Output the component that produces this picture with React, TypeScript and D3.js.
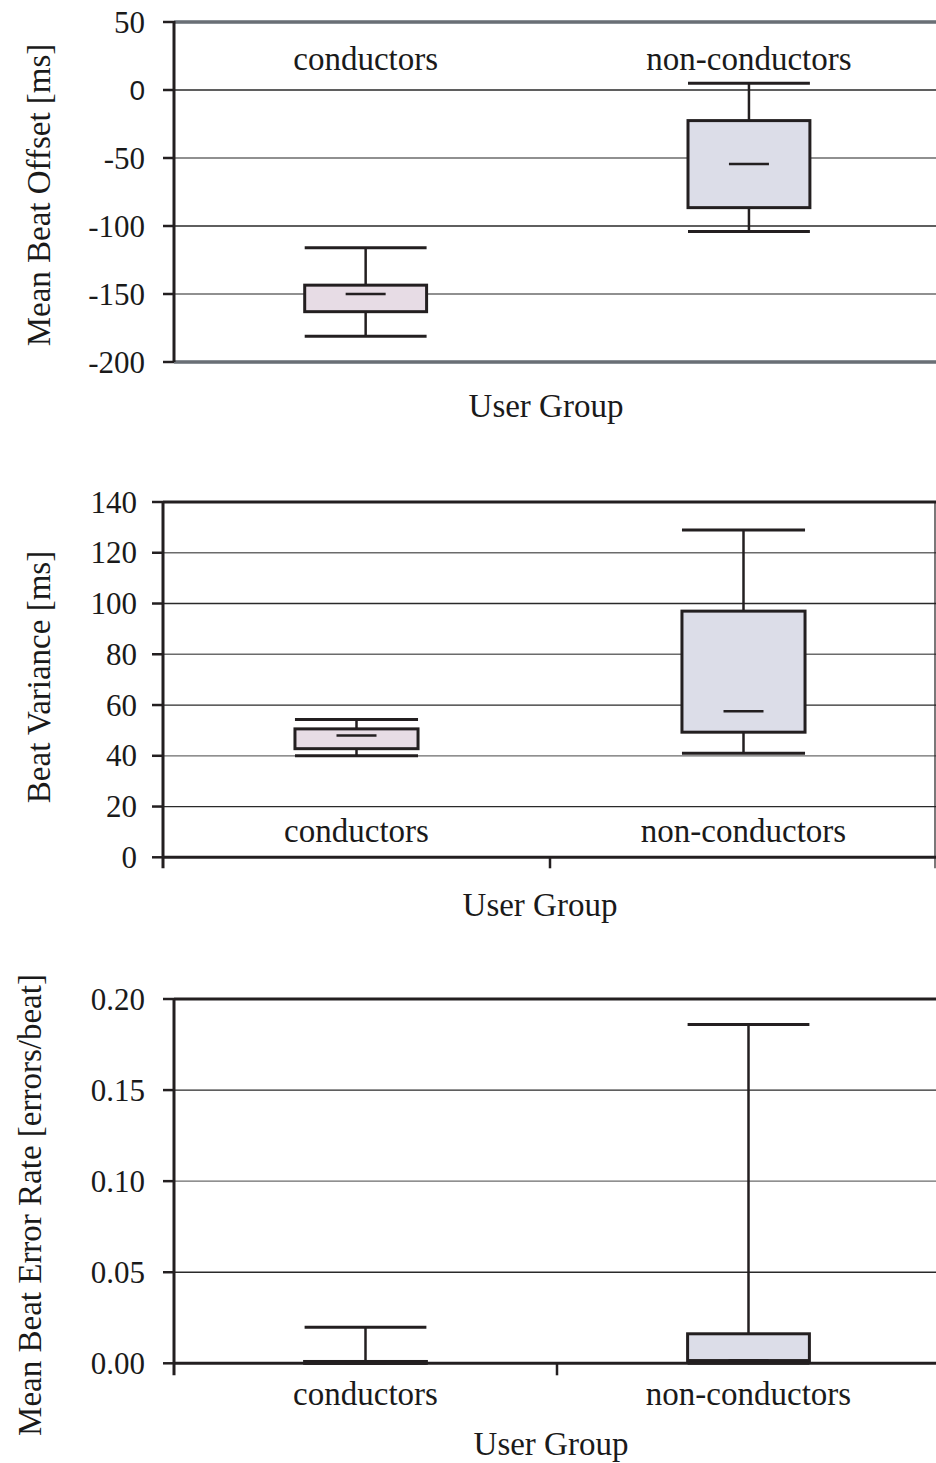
import React from "react";
import * as d3 from "d3";

// ---------- data ----------
const categories = ["conductors", "non-conductors"];

// [whiskerLow, q1, median, q3, whiskerHigh]
const offsetConductors = [-181, -163, -150, -143.5, -116];
const offsetNonConductors = [-104, -86.5, -54.5, -22.5, 5];
const offsetTicks = [50, 0, -50, -100, -150, -200];

const varianceConductors = [40, 42.8, 48, 50.6, 54.3];
const varianceNonConductors = [41, 49.3, 57.5, 97, 129];
const varianceTicks = [0, 20, 40, 60, 80, 100, 120, 140];

const errorConductors = [0, 0, 0, 0.001, 0.0198];
const errorNonConductors = [0, 0.0015, 0.0015, 0.0162, 0.186];
const errorTicks = [0, 0.05, 0.1, 0.15, 0.2];

const fills = ["#e7dce5", "#dcdde8"];

const SERIF = "'Liberation Serif', 'Times New Roman', serif";
const SANS = "'Liberation Sans', Arial, sans-serif";
const INK = "#231f20";
const TXT = "#1a1a1a";

type PanelCfg = {
  values: number[][];
  ticks: number[];
  fmt: (v: number) => string;
  domain: [number, number];
  top: number;
  bottom: number;
  axisX: number;
  right: number;
  title: string;
  titleX: number;
  titleY: number;
  catY: number;
  xTitleX: number;
  xTitleY: number;
  style: "gray" | "axes";
  tickLabelRight: number;
  extendBelow: number;
  sansZero?: boolean;
  rightBorder?: boolean;
};

const panels: PanelCfg[] = [
  {
    values: [offsetConductors, offsetNonConductors],
    ticks: offsetTicks,
    fmt: (v) => String(v),
    domain: [-200, 50],
    top: 22,
    bottom: 362,
    axisX: 174,
    right: 940.6,
    title: "Mean Beat Offset [ms]",
    titleX: 50,
    titleY: 195,
    catY: 70,
    xTitleX: 546,
    xTitleY: 417,
    style: "gray",
    tickLabelRight: 145,
    extendBelow: 0,
    sansZero: true,
  },
  {
    values: [varianceConductors, varianceNonConductors],
    ticks: varianceTicks,
    fmt: (v) => String(v),
    domain: [0, 140],
    top: 502,
    bottom: 857.3,
    axisX: 163,
    right: 937,
    title: "Beat Variance [ms]",
    titleX: 50,
    titleY: 677,
    catY: 842,
    xTitleX: 540,
    xTitleY: 916,
    style: "axes",
    tickLabelRight: 137,
    extendBelow: 11,
    rightBorder: true,
  },
  {
    values: [errorConductors, errorNonConductors],
    ticks: errorTicks,
    fmt: (v) => d3.format(".2f")(v),
    domain: [0, 0.2],
    top: 999,
    bottom: 1363.3,
    axisX: 174,
    right: 940,
    title: "Mean Beat Error Rate [errors/beat]",
    titleX: 41,
    titleY: 1205,
    catY: 1405,
    xTitleX: 551,
    xTitleY: 1455,
    style: "axes",
    tickLabelRight: 145,
    extendBelow: 12,
  },
];

function Panel({ cfg }: { cfg: PanelCfg }) {
  const y = d3.scaleLinear().domain(cfg.domain).range([cfg.bottom, cfg.top]);
  const x = d3
    .scaleBand<string>()
    .domain(categories)
    .range([cfg.axisX, cfg.right])
    .paddingInner(0)
    .paddingOuter(0);
  const bw = x.bandwidth();
  const boxW = bw * 0.318;
  const medW = 40;
  const [lo, hi] = cfg.domain;
  const inner = cfg.ticks.filter((t) => t !== lo && t !== hi);
  const rightEnd = Math.min(cfg.right, 936);

  return (
    <g>
      {/* gridlines */}
      {inner.map((t, i) => (
        <line
          key={"g" + t}
          x1={cfg.axisX}
          x2={rightEnd}
          y1={y(t)}
          y2={y(t)}
          stroke={i % 2 === 0 ? "#2a2a2a" : "#6b6b6b"}
          strokeWidth={1.3}
        />
      ))}

      {/* boxes */}
      {categories.map((c, i) => {
        const [wl, q1, med, q3, wh] = cfg.values[i];
        const cx = (x(c) as number) + bw / 2;
        return (
          <g key={c} stroke={INK} strokeLinecap="butt">
            <line x1={cx} x2={cx} y1={y(wh)} y2={y(q3)} strokeWidth={2.5} />
            <line x1={cx} x2={cx} y1={y(q1)} y2={y(wl)} strokeWidth={2.5} />
            <line x1={cx - boxW / 2} x2={cx + boxW / 2} y1={y(wh)} y2={y(wh)} strokeWidth={3} />
            <line x1={cx - boxW / 2} x2={cx + boxW / 2} y1={y(wl)} y2={y(wl)} strokeWidth={3} />
            <rect
              x={cx - boxW / 2}
              y={y(q3)}
              width={boxW}
              height={Math.max(0, y(q1) - y(q3))}
              fill={fills[i]}
              strokeWidth={3}
            />
            <line x1={cx - medW / 2} x2={cx + medW / 2} y1={y(med)} y2={y(med)} strokeWidth={2.5} />
          </g>
        );
      })}

      {/* frame / axes */}
      {cfg.style === "gray" ? (
        <g>
          <line x1={cfg.axisX} x2={rightEnd} y1={cfg.top} y2={cfg.top} stroke="#8a9096" strokeWidth={4} />
          <line x1={cfg.axisX} x2={rightEnd} y1={cfg.top} y2={cfg.top} stroke="#4a4f55" strokeWidth={1} />
          <line x1={cfg.axisX} x2={rightEnd} y1={cfg.bottom} y2={cfg.bottom} stroke="#8a9096" strokeWidth={4} />
          <line x1={cfg.axisX} x2={rightEnd} y1={cfg.bottom} y2={cfg.bottom} stroke="#4a4f55" strokeWidth={1} />
        </g>
      ) : (
        <g stroke={INK}>
          <line x1={cfg.axisX} x2={rightEnd} y1={cfg.top} y2={cfg.top} strokeWidth={3} />
          <line x1={cfg.axisX} x2={rightEnd} y1={cfg.bottom} y2={cfg.bottom} strokeWidth={3} />
          <line
            x1={x(categories[1]) as number}
            x2={x(categories[1]) as number}
            y1={cfg.bottom}
            y2={cfg.bottom + cfg.extendBelow}
            strokeWidth={2.5}
          />
          {cfg.rightBorder && (
            <line x1={935} x2={935} y1={cfg.top} y2={cfg.bottom + cfg.extendBelow} strokeWidth={1.2} />
          )}
        </g>
      )}
      <line
        x1={cfg.axisX}
        x2={cfg.axisX}
        y1={cfg.top - 1}
        y2={cfg.bottom + cfg.extendBelow}
        stroke={INK}
        strokeWidth={3}
      />
      {cfg.ticks.map((t) => (
        <g key={"t" + t}>
          <line x1={cfg.axisX - 11} x2={cfg.axisX} y1={y(t)} y2={y(t)} stroke={INK} strokeWidth={2.5} />
          <text
            x={cfg.tickLabelRight}
            y={y(t)}
            dy="0.34em"
            textAnchor="end"
            fontFamily={cfg.sansZero && t === 0 ? SANS : SERIF}
            fontSize={cfg.sansZero && t === 0 ? 28 : 31}
            fill={TXT}
          >
            {cfg.fmt(t)}
          </text>
        </g>
      ))}

      {/* category labels */}
      {categories.map((c) => (
        <text
          key={"c" + c}
          x={(x(c) as number) + bw / 2}
          y={cfg.catY}
          textAnchor="middle"
          fontFamily={SERIF}
          fontSize={33}
          fill={TXT}
        >
          {c}
        </text>
      ))}

      {/* titles */}
      <text
        x={cfg.xTitleX}
        y={cfg.xTitleY}
        textAnchor="middle"
        fontFamily={SERIF}
        fontSize={33}
        fill={TXT}
      >
        User Group
      </text>
      <text
        transform={`translate(${cfg.titleX},${cfg.titleY}) rotate(-90)`}
        textAnchor="middle"
        fontFamily={SERIF}
        fontSize={33}
        fill={TXT}
      >
        {cfg.title}
      </text>
    </g>
  );
}

export default function App() {
  return (
    <svg
      width={936}
      height={1463}
      viewBox="0 0 936 1463"
      style={{ position: "absolute", left: 0, top: 0, background: "#fff" }}
    >
      <rect width={936} height={1463} fill="#fff" />
      {panels.map((p, i) => (
        <Panel key={i} cfg={p} />
      ))}
    </svg>
  );
}
